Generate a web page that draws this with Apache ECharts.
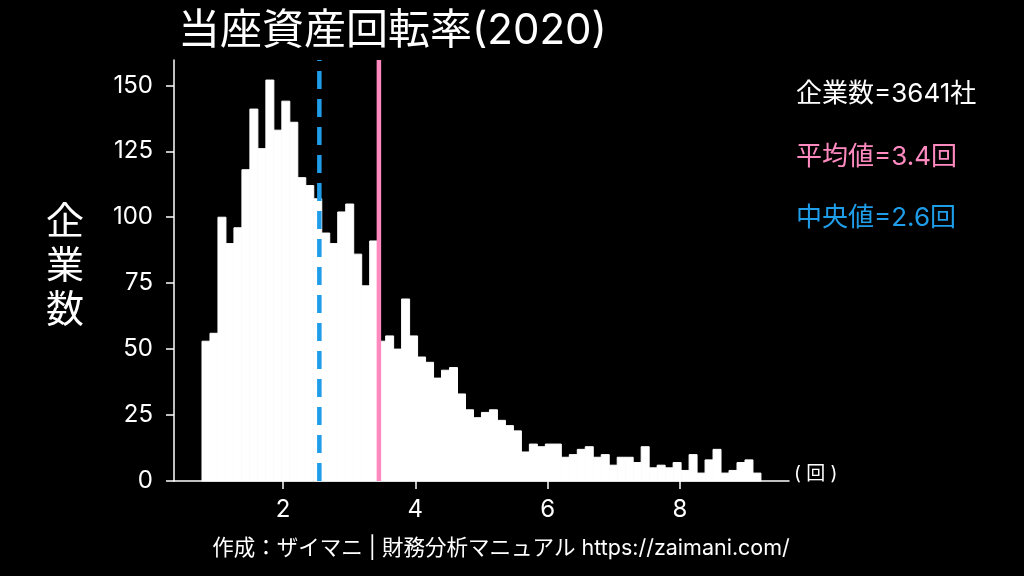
<!DOCTYPE html>
<html>
<head>
<meta charset="utf-8">
<script src="https://cdn.jsdelivr.net/npm/echarts@6/dist/echarts.min.js"></script>
<style>
html,body{margin:0;padding:0;background:#000;}
#main{width:1024px;height:576px;}
</style>
</head>
<body>
<div id="main"></div>
<script>
// ---- data ----
const binStart = 0.776;
const binWidth = 0.1207;
const counts = [53,56,100,90,96,118,141,126,152,133,
                144,136,115,112,107,94,90,102,105,86,
                74,91,53,55,50,69,55,47,45,39,
                42,43,33,27,24,26,27,23,21,19,
                11,14,13,14,14,9,10,12,13,9,
                10,6,9,9,7,13,5,6,5,7,
                4,10,3,8,12,3,4,7,8,3];
const meanValue = 3.45;
const medianValue = 2.55;
const companyCount = 3641;
const xTicks = [2,4,6,8];
const yTicks = [0,25,50,75,100,125,150];
const xRange = [0.353, 9.649];
const yRange = [0, 159.6];

const FONT = "Inter,'Noto Sans CJK JP','Noto Sans',sans-serif";
const PINK = '#ff8ac0';
const BLUE = '#1f9de9';

const histData = counts.map((c, i) => [binStart + i*binWidth, binStart + (i+1)*binWidth, c]);

const chart = echarts.init(document.getElementById('main'));
chart.setOption({
  backgroundColor: '#000',
  animation: false,
  grid: {left: 174, right: 235, top: 60, bottom: 95},
  xAxis: {
    type: 'value', min: xRange[0], max: xRange[1],
    axisLine: {show: true, lineStyle: {color: '#fff', width: 1.5}},
    axisTick: {show: true, length: 8, lineStyle: {color: '#fff', width: 1.5}, customValues: xTicks},
    axisLabel: {color: '#fff', fontSize: 24, fontFamily: FONT, margin: 17, customValues: xTicks},
    splitLine: {show: false}
  },
  yAxis: {
    type: 'value', min: yRange[0], max: yRange[1],
    axisLine: {show: true, lineStyle: {color: '#fff', width: 1.5}},
    axisTick: {show: true, length: 8, lineStyle: {color: '#fff', width: 1.5}, customValues: yTicks},
    axisLabel: {color: '#fff', fontSize: 24, fontFamily: FONT, margin: 21, customValues: yTicks},
    splitLine: {show: false}
  },
  series: [
    {
      type: 'custom',
      data: histData,
      encode: {x: [0, 1], y: 2},
      renderItem: function (params, api) {
        const p0 = api.coord([api.value(0), api.value(2)]);
        const p1 = api.coord([api.value(1), 0]);
        return {
          type: 'rect',
          shape: {x: p0[0], y: p0[1], width: p1[0] - p0[0], height: p1[1] - p0[1]},
          style: {fill: '#fff', stroke: '#fff', lineWidth: 1}
        };
      },
      z: 2
    },
    {
      type: 'line', data: [[medianValue, yRange[0]], [medianValue, yRange[1]]],
      symbol: 'none', lineStyle: {color: BLUE, width: 4.5, type: [18, 10], cap: 'butt'}, z: 3
    },
    {
      type: 'line', data: [[meanValue, yRange[0]], [meanValue, yRange[1]]],
      symbol: 'none', lineStyle: {color: PINK, width: 4.5}, z: 3
    }
  ],
  graphic: [
    {type: 'text', x: 178, y: 31, style: {text: '当座資産回転率(2020)', fill: '#fff', fontSize: 42, fontFamily: FONT, verticalAlign: 'middle'}},
    {type: 'text', x: 65, y: 267, style: {text: '企\n業\n数', fill: '#fff', fontSize: 38, lineHeight: 44, fontFamily: FONT, align: 'center', verticalAlign: 'middle'}},
    {type: 'text', x: 796, y: 94, style: {text: '企業数=' + companyCount + '社', fill: '#fff', fontSize: 26, fontFamily: FONT, verticalAlign: 'middle'}},
    {type: 'text', x: 796, y: 157, style: {text: '平均値=' + (Math.floor(meanValue*10)/10).toFixed(1) + '回', fill: PINK, fontSize: 26, fontFamily: FONT, verticalAlign: 'middle'}},
    {type: 'text', x: 796, y: 218, style: {text: '中央値=' + (Math.round(medianValue*10)/10).toFixed(1) + '回', fill: BLUE, fontSize: 26, fontFamily: FONT, verticalAlign: 'middle'}},
    {type: 'text', x: 794, y: 474, style: {text: '( 回 )', fill: '#fff', fontSize: 19, fontFamily: FONT, verticalAlign: 'middle'}},
    {type: 'text', x: 501, y: 549, style: {text: '作成：ザイマニ | 財務分析マニュアル https://zaimani.com/', fill: '#fff', fontSize: 21.5, fontFamily: FONT, align: 'center', verticalAlign: 'middle'}}
  ]
});
</script>
</body>
</html>
